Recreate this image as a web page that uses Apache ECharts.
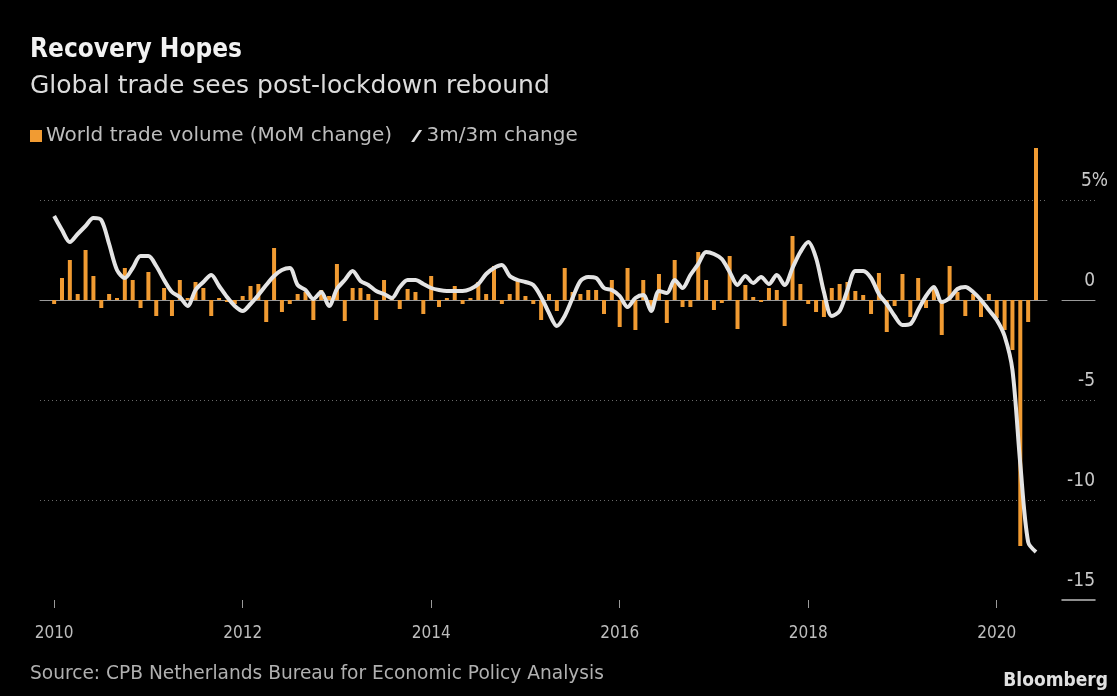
<!DOCTYPE html>
<html>
<head>
<meta charset="utf-8">
<script src="https://cdn.jsdelivr.net/npm/echarts@6/dist/echarts.min.js"></script>
<style>
  html, body { margin: 0; padding: 0; background: #000; }
  #chart { width: 1117px; height: 696px; }
</style>
</head>
<body>
<div id="chart"></div>
<script>
// ---- Data (monthly, Jan 2010 .. Jun 2020) ----
const startYear = 2010;
const monthCount = 126;
const months = [];
for (let i = 0; i < monthCount; i++) {
  const y = startYear + Math.floor(i / 12);
  const m = (i % 12) + 1;
  months.push(y + '-' + (m < 10 ? '0' + m : m));
}

// World trade volume, MoM change (%)
const momChange = [
  -0.2, 1.1, 2.0, 0.3, 2.5, 1.2, -0.4, 0.3, 0.1, 1.6, 1.0, -0.4,
  1.4, -0.8, 0.6, -0.8, 1.0, 0.1, 0.9, 0.6, -0.8, 0.1, -0.1, -0.2,
  0.2, 0.7, 0.8, -1.1, 2.6, -0.6, -0.2, 0.3, 0.4, -1.0, 0.5, 0.2,
  1.8, -1.05, 0.6, 0.6, 0.3, -1.0, 1.0, 0.2, -0.45, 0.55, 0.4, -0.7,
  1.2, -0.35, 0.1, 0.7, -0.2, 0.1, 0.9, 0.3, 1.7, -0.2, 0.3, 0.95,
  0.2, -0.2, -1.0, 0.3, -0.55, 1.6, 0.4, 0.3, 0.5, 0.5, -0.7, 1.0,
  -1.35, 1.6, -1.5, 1.0, -0.4, 1.3, -1.15, 2.0, -0.35, -0.35, 2.4, 1.0,
  -0.5, -0.15, 2.2, -1.45, 0.75, 0.15, -0.1, 0.6, 0.5, -1.3, 3.2, 0.8,
  -0.2, -0.6, -0.85, 0.6, 0.8, 0.9, 0.45, 0.25, -0.7, 1.35, -1.6, -0.3,
  1.3, -0.85, 1.1, -0.4, 0.7, -1.75, 1.7, 0.4, -0.8, 0.3, -0.85, 0.3,
  -0.9, -1.5, -2.5, -12.3, -1.1, 7.6
];

// 3m/3m change (%)
const threeMonthChange = [
  4.2, 3.5, 2.9, 3.3, 3.7, 4.1, 4.0, 2.8, 1.5, 1.1, 1.6, 2.2,
  2.2, 1.7, 1.0, 0.4, 0.15, -0.3, 0.5, 0.9, 1.25, 0.7, 0.15, -0.3,
  -0.55, -0.2, 0.25, 0.75, 1.2, 1.5, 1.6, 0.75, 0.5, 0.05, 0.4, -0.3,
  0.55, 1.0, 1.45, 0.95, 0.75, 0.45, 0.3, 0.1, 0.65, 1.0, 1.0, 0.8,
  0.6, 0.5, 0.45, 0.45, 0.45, 0.55, 0.8, 1.3, 1.6, 1.75, 1.2, 1.0,
  0.9, 0.75, 0.15, -0.65, -1.3, -0.8, 0.1, 0.95, 1.15, 1.1, 0.6, 0.5,
  0.2, -0.35, 0.1, 0.25, -0.55, 0.45, 0.35, 1.0, 0.6, 1.25, 1.8, 2.4,
  2.3, 2.05, 1.4, 0.75, 1.2, 0.85, 1.15, 0.8, 1.25, 0.75, 1.6, 2.4,
  2.9, 2.1, 0.4, -0.8, -0.55, 0.5, 1.45, 1.45, 1.1, 0.3, -0.2, -0.8,
  -1.25, -1.2, -0.5, 0.2, 0.65, -0.1, 0.1, 0.55, 0.65, 0.4, 0.0, -0.5,
  -1.0, -1.8, -3.5, -8.2, -12.1, -12.6
];

const yearTickLabels = ['2010', '2012', '2014', '2016', '2018', '2020'];
const yTickValues = [-15, -10, -5, 0, 5];

const seriesNames = ['World trade volume (MoM change)', '3m/3m change'];

// ---- Build ----
const FONT_C = "'DejaVu Sans Condensed','DejaVu Sans',sans-serif";
const FONT_R = "'DejaVu Sans',sans-serif";
const tickPositions = yearTickLabels.map(y => months.indexOf(y + '-01'));
const barData = months.map((m, i) => [i, momChange[i]]);
const lineData = months.map((m, i) => [i, threeMonthChange[i]]);

const chart = echarts.init(document.getElementById('chart'), null, { renderer: 'canvas' });

const yCommon = { min: -15, max: 8, interval: 5 };

const option = {
  backgroundColor: '#000000',
  animation: false,
  title: [
    { text: 'Recovery Hopes', left: 30, top: 37, padding: 0,
      textStyle: { color: '#f2f2f2', fontSize: 26, fontWeight: 'bold', fontFamily: FONT_C } },
    { text: 'Global trade sees post-lockdown rebound', left: 30, top: 74, padding: 0,
      textStyle: { color: '#dcdcdc', fontSize: 25, fontWeight: 'normal', fontFamily: FONT_R } },
    { text: 'Source: CPB Netherlands Bureau for Economic Policy Analysis', left: 30, top: 665, padding: 0,
      textStyle: { color: '#b0b0b0', fontSize: 18.6, fontWeight: 'normal', fontFamily: FONT_R } },
    { text: 'Bloomberg', right: 9, top: 672, padding: 0,
      textStyle: { color: '#e0e0e0', fontSize: 19, fontWeight: 'bold', fontFamily: FONT_C } }
  ],
  legend: {
    left: 30, top: 126, padding: 0,
    itemWidth: 12, itemHeight: 12, itemGap: 19,
    textStyle: { color: '#bdbdbd', fontSize: 20, fontFamily: FONT_R, padding: [0, 0, 0, -1] },
    data: [
      { name: seriesNames[0], icon: 'rect', itemStyle: { color: '#f19b32' } },
      { name: seriesNames[1], icon: 'path://M0,12 L8,0 L11,0 L3,12 Z',
        itemStyle: { color: '#dddddd' }, lineStyle: { width: 0 } }
    ]
  },
  grid: [
    { left: 40, width: 1007, top: 140, height: 460 },
    { left: 1062, width: 33, top: 140, height: 460 }
  ],
  xAxis: [
    { // main axis with year ticks
      type: 'value', gridIndex: 0, min: -1.8, max: 126.4, position: 'bottom',
      axisLine: { show: false, onZero: false },
      splitLine: { show: false },
      axisTick: { show: true, customValues: tickPositions, length: 8, inside: false,
        lineStyle: { color: '#9a9a9a', width: 1 } },
      axisLabel: { show: true, customValues: tickPositions, margin: 25,
        color: '#bdbdbd', fontSize: 17, fontFamily: FONT_C,
        formatter: v => yearTickLabels[tickPositions.indexOf(Math.round(v))] || '' }
    },
    { // zero line across main plot
      type: 'value', gridIndex: 0, min: -1.8, max: 126.4, position: 'top',
      axisLine: { show: true, onZero: true, lineStyle: { color: '#9a9a9a', width: 1 } },
      axisTick: { show: false }, axisLabel: { show: false }, splitLine: { show: false }
    },
    { // right panel bottom line (-15)
      type: 'value', gridIndex: 1, min: 0, max: 1, position: 'bottom',
      axisLine: { show: true, onZero: false, lineStyle: { color: '#bdbdbd', width: 1.5 } },
      axisTick: { show: false }, axisLabel: { show: false }, splitLine: { show: false }
    },
    { // right panel zero line
      type: 'value', gridIndex: 1, min: 0, max: 1, position: 'top',
      axisLine: { show: true, onZero: true, lineStyle: { color: '#9a9a9a', width: 1 } },
      axisTick: { show: false }, axisLabel: { show: false }, splitLine: { show: false }
    }
  ],
  yAxis: [
    Object.assign({
      type: 'value', gridIndex: 0,
      axisLine: { show: false }, axisTick: { show: false }, axisLabel: { show: false },
      splitLine: { show: true, showMinLine: false, showMaxLine: false,
        lineStyle: { color: '#6a6a6a', type: [1, 3], width: 1 } }
    }, yCommon),
    Object.assign({
      type: 'value', gridIndex: 1, position: 'right',
      axisLine: { show: false }, axisTick: { show: false },
      splitLine: { show: true, showMinLine: false, showMaxLine: false,
        lineStyle: { color: '#6a6a6a', type: [1, 3], width: 1 } },
      axisLabel: {
        show: true, inside: true, margin: -13, showMaxLabel: false,
        color: '#c8c8c8', fontSize: 19, fontFamily: FONT_C,
        verticalAlign: 'bottom', padding: [0, 0, 9, 0],
        formatter: v => (yTickValues.indexOf(v) < 0 ? '' : (v === 5 ? '5{p|%}' : v + '{s|}')),
        rich: {
          p: { color: '#c8c8c8', fontSize: 19, fontFamily: FONT_C },
          s: { width: 13 }
        }
      }
    }, yCommon)
  ],
  series: [
    {
      name: seriesNames[0], type: 'bar', xAxisIndex: 0, yAxisIndex: 0,
      data: barData, barWidth: 4,
      itemStyle: { color: '#f19b32' },
      z: 2
    },
    {
      name: seriesNames[1], type: 'line', xAxisIndex: 0, yAxisIndex: 0,
      data: lineData, showSymbol: false, symbol: 'none', smooth: 0.3,
      lineStyle: { color: '#e4e4e4', width: 4 },
      itemStyle: { color: '#dddddd' },
      z: 3
    }
  ]
};

chart.setOption(option);
</script>
</body>
</html>
